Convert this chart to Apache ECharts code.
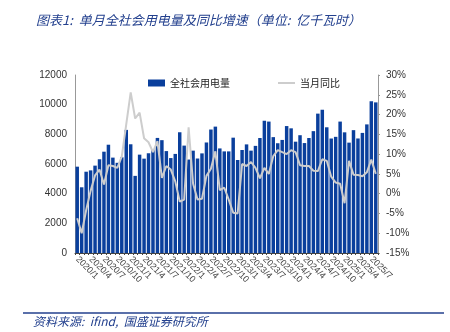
<!DOCTYPE html>
<html>
<head>
<meta charset="utf-8">
<script src="https://cdn.jsdelivr.net/npm/echarts@6/dist/echarts.min.js"></script>
<style>
  html, body { margin: 0; padding: 0; background: #fff; }
  #chart { width: 450px; height: 332px; }
</style>
</head>
<body>
<div id="chart"></div>
<script>
// Monthly categories, 2020/1 – 2025/8
const months = [
  '2020/1','2020/2','2020/3','2020/4','2020/5','2020/6','2020/7','2020/8','2020/9','2020/10','2020/11','2020/12',
  '2021/1','2021/2','2021/3','2021/4','2021/5','2021/6','2021/7','2021/8','2021/9','2021/10','2021/11','2021/12',
  '2022/1','2022/2','2022/3','2022/4','2022/5','2022/6','2022/7','2022/8','2022/9','2022/10','2022/11','2022/12',
  '2023/1','2023/2','2023/3','2023/4','2023/5','2023/6','2023/7','2023/8','2023/9','2023/10','2023/11','2023/12',
  '2024/1','2024/2','2024/3','2024/4','2024/5','2024/6','2024/7','2024/8','2024/9','2024/10','2024/11','2024/12',
  '2025/1','2025/2','2025/3','2025/4','2025/5','2025/6','2025/7','2025/8'
];

// 全社会用电量（亿千瓦时）
const usage = [
  5820, 4430, 5480, 5570, 5890, 6320, 6830, 7300, 6430, 6080, 6450, 8300,
  7330, 5200, 6631, 6361, 6724, 6950, 7758, 7607, 6870, 6400, 6680, 8140,
  7240, 6300, 6900, 6370, 6716, 7451, 8324, 8520, 7050, 6850, 6850, 7775,
  6270, 6945, 7322, 6901, 7222, 7751, 8920, 8860, 7811, 7400, 7622, 8558,
  8405, 7505, 7941, 7412, 7751, 8215, 9396, 9649, 8475, 7718, 7831, 8860,
  8135, 7440, 8282, 7721, 8096, 8670, 10226, 10154
];

// 当月同比（%）
const yoy = [
  -6.2, -10.0, -4.2, 0.7, 4.6, 6.1, 2.3, 7.2, 7.0, 6.5, 9.4, 17.5,
  25.6, 19.0, 20.5, 14.0, 13.0, 10.5, 13.3, 4.0, 7.0, 6.1, 3.1, -2.0,
  -1.5, 16.8, 2.5, -1.5, -1.3, 4.5, 6.3, 10.7, 0.9, 1.5, -1.5, -4.8,
  -5.0, 7.5, 7.0, 8.0, 6.5, 3.9, 6.5, 5.0, 9.5, 11.0, 10.5, 10.0,
  11.0, 10.5, 7.2, 7.0, 7.0, 5.8, 5.7, 8.7, 8.3, 4.3, 2.8, 2.5,
  -2.4, 8.3, 4.8, 4.7, 4.4, 5.4, 8.6, 5.0
];

const titleText = '图表1:  单月全社会用电量及同比增速（单位:  亿千瓦时）';
const sourceText = '资料来源:  ifind,  国盛证券研究所';
const seriesNames = ['全社会用电量', '当月同比'];

const BLUE = '#0a3f9c';
const INK = '#23408e';
const GREY_LINE = '#cdcdcd';
const lastIdx = yoy.length - 1;

// only the latest month carries a value tag
const yoyData = yoy.map((v, i) => i === lastIdx ? {
  value: v,
  label: {
    show: true,
    position: 'top',
    distance: 2,
    offset: [-9, 0],
    formatter: (p) => p.value.toFixed(1) + '%',
    color: '#fff',
    backgroundColor: '#c00000',
    fontFamily: 'DejaVu Sans',
    fontWeight: 'bold',
    fontSize: 11,
    padding: [1, 2, 0, 2]
  }
} : v);

const legendText = { fontFamily: '"Noto Sans CJK SC"', fontSize: 10, color: '#222' };

const chart = echarts.init(document.getElementById('chart'), null, { renderer: 'canvas' });
chart.setOption({
  animation: false,
  backgroundColor: '#fff',
  textStyle: { fontFamily: '"Liberation Sans", "Noto Sans CJK SC", sans-serif' },
  title: {
    text: titleText,
    left: 31,
    top: 9,
    textStyle: {
      fontFamily: '"Noto Sans CJK SC"',
      fontStyle: 'italic',
      fontWeight: 'normal',
      fontSize: 13,
      color: INK
    }
  },
  legend: [
    {
      left: 143,
      top: 73,
      itemWidth: 17,
      itemHeight: 7,
      textStyle: legendText,
      data: [{ name: seriesNames[0], icon: 'rect' }]
    },
    {
      left: 273,
      top: 73,
      itemWidth: 17,
      itemHeight: 2,
      textStyle: legendText,
      data: [{ name: seriesNames[1], icon: 'rect', itemStyle: { color: GREY_LINE } }]
    }
  ],
  grid: { left: 75, right: 72, top: 75, bottom: 79, containLabel: false },
  xAxis: {
    type: 'category',
    data: months,
    boundaryGap: true,
    axisLine: { lineStyle: { color: '#444', width: 1 } },
    axisTick: { show: true, interval: 0, length: 2, lineStyle: { color: '#444' } },
    axisLabel: {
      interval: 2,
      rotate: -45,
      margin: 5,
      fontSize: 9,
      color: '#444',
      fontFamily: '"Liberation Sans"'
    }
  },
  yAxis: [
    {
      type: 'value',
      min: 0,
      max: 12000,
      interval: 2000,
      axisLine: { show: true, lineStyle: { color: '#999' } },
      axisTick: { show: false },
      splitLine: { show: false },
      axisLabel: {
        fontSize: 10, color: '#333', margin: 8, fontFamily: '"Liberation Sans"',
        formatter: (v) => String(v)
      }
    },
    {
      type: 'value',
      min: -15,
      max: 30,
      interval: 5,
      position: 'right',
      axisLine: { show: true, lineStyle: { color: '#999' } },
      axisTick: { show: true, length: 2, lineStyle: { color: '#999' } },
      splitLine: { show: false },
      axisLabel: { fontSize: 10, color: '#333', margin: 8, formatter: '{value}%', fontFamily: '"Liberation Sans"' }
    }
  ],
  series: [
    {
      name: seriesNames[0],
      type: 'bar',
      yAxisIndex: 0,
      data: usage,
      barCategoryGap: '22%',
      itemStyle: { color: BLUE }
    },
    {
      name: seriesNames[1],
      type: 'line',
      yAxisIndex: 1,
      data: yoyData,
      symbol: 'none',
      lineStyle: { color: GREY_LINE, width: 2 },
      itemStyle: { color: GREY_LINE },
      z: 3
    }
  ],
  graphic: [
    {
      type: 'line',
      shape: { x1: 23, y1: 313, x2: 444, y2: 313 },
      style: { stroke: INK, lineWidth: 1.5 }
    },
    {
      type: 'text',
      left: 33,
      top: 315,
      style: {
        text: sourceText,
        fontFamily: '"Noto Sans CJK SC"',
        fontStyle: 'italic',
        fontSize: 12,
        fill: INK
      }
    }
  ]
});
</script>
</body>
</html>
